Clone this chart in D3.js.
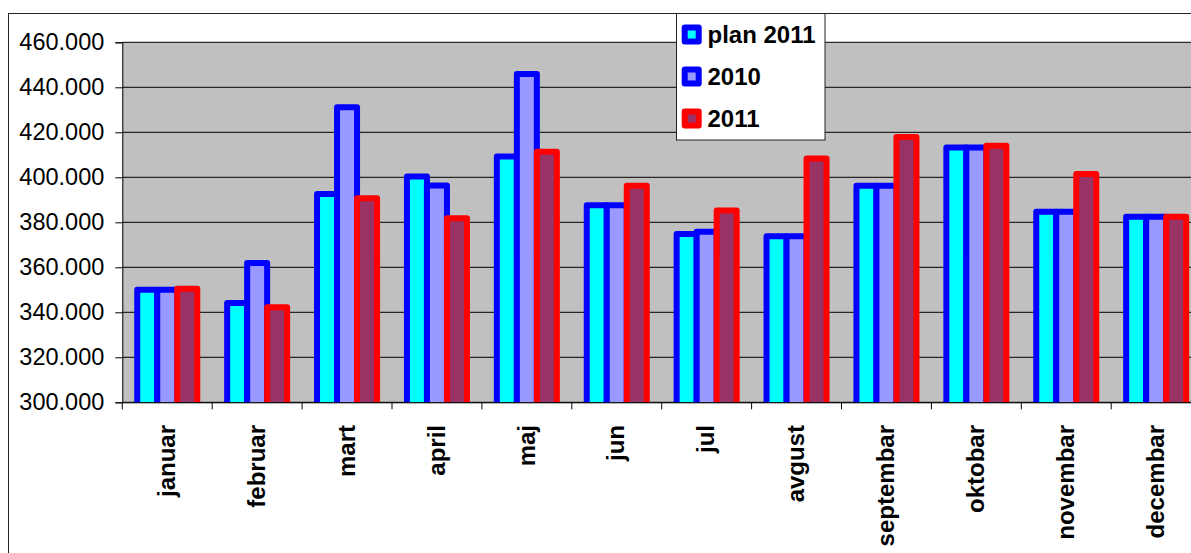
<!DOCTYPE html>
<html>
<head>
<meta charset="utf-8">
<script src="https://cdn.jsdelivr.net/npm/d3@7"></script>
<style>
  html, body { margin: 0; padding: 0; background: #fff; }
  svg { display: block; font-family: "Liberation Sans", Arial, sans-serif; }
</style>
</head>
<body>
<svg id="chart" width="1191" height="553"></svg>
<script>
const categories = ["januar","februar","mart","april","maj","jun","jul","avgust","septembar","oktobar","novembar","decembar"];
const seriesNames = ["plan 2011","2010","2011"];
const plan2011 = [350000, 344100, 392600, 400400, 409300, 387600, 374800, 373800, 396300, 413200, 384700, 382500];
const y2010    = [350000, 361900, 431100, 396400, 445900, 387600, 375800, 373800, 396300, 413200, 384700, 382500];
const y2011    = [350500, 342200, 390700, 381800, 411400, 396300, 385300, 408400, 417900, 414000, 401500, 382500];
const yTicks = [300000, 320000, 340000, 360000, 380000, 400000, 420000, 440000, 460000];
const fills   = ["#00FFFF", "#9999FF", "#993366"];
const strokes = ["#0000FF", "#0000FF", "#FF0000"];

const seriesValues = [plan2011, y2010, y2011];

const svg = d3.select("#chart");
const W = 1191, H = 553;

const plotLeft = 122.3, bandW = 89.9;
const plotRight = plotLeft + bandW * categories.length;
const plotTop = 42.3, plotBottom = 402.3;

// outer frame
svg.append("rect").attr("x", 8.5).attr("y", 13.5).attr("width", W + 20).attr("height", H + 20)
  .attr("fill", "#fff").attr("stroke", "#222").attr("stroke-width", 1);

const x0 = d3.scaleBand().domain(categories).range([plotLeft, plotRight]).padding(0);
const groupW = x0.bandwidth() * (60 / 89.9);
const x1 = d3.scaleBand().domain(seriesNames)
  .range([(x0.bandwidth() - groupW) / 2, (x0.bandwidth() + groupW) / 2]).padding(0);
const y = d3.scaleLinear().domain([300000, 460000]).range([plotBottom, plotTop]);

// plot background
svg.append("rect").attr("x", plotLeft).attr("y", plotTop)
  .attr("width", plotRight - plotLeft).attr("height", plotBottom - plotTop).attr("fill", "#C0C0C0");

// gridlines
svg.append("g").selectAll("line").data(yTicks).join("line")
  .attr("x1", plotLeft).attr("x2", plotRight)
  .attr("y1", d => y(d)).attr("y2", d => y(d))
  .attr("stroke", "#000").attr("stroke-width", 1);

// clip for bars
svg.append("clipPath").attr("id", "plotclip").append("rect")
  .attr("x", plotLeft).attr("y", 0).attr("width", plotRight - plotLeft).attr("height", plotBottom);

const barsG = svg.append("g").attr("clip-path", "url(#plotclip)");
seriesNames.forEach((s, si) => {
  barsG.append("g").selectAll("rect").data(categories).join("rect")
    .attr("x", c => x0(c) + x1(s))
    .attr("y", (c, i) => y(seriesValues[si][i]))
    .attr("width", x1.bandwidth())
    .attr("height", (c, i) => y(300000) - y(seriesValues[si][i]) + 6)
    .attr("fill", fills[si])
    .attr("stroke", strokes[si])
    .attr("stroke-width", 6)
    .attr("stroke-linejoin", "round");
});

// y axis
const loc = d3.formatLocale({decimal: ",", thousands: ".", grouping: [3], currency: ["", ""]});
const fmt = loc.format(",");
const yAxis = d3.axisLeft(y).tickValues(yTicks).tickFormat(fmt).tickSize(7).tickPadding(11);
const yg = svg.append("g").attr("transform", `translate(${plotLeft},0)`).call(yAxis);
yg.select(".domain").attr("stroke", "#000");
yg.selectAll(".tick line").attr("stroke", "#000");
yg.selectAll("text").attr("font-size", "23.5px").attr("fill", "#000")
  .attr("font-family", "'Liberation Sans', Arial, sans-serif");

// x axis
const xAxis = d3.axisBottom(x0).tickSize(0).tickFormat("");
const xg = svg.append("g").attr("transform", `translate(0,${plotBottom})`).call(xAxis);
xg.select(".domain").attr("stroke", "#000");
const bounds = categories.map(c => x0(c)).concat([plotRight]);
xg.selectAll(".bt").data(bounds).join("line").attr("class", "bt")
  .attr("x1", d => d).attr("x2", d => d).attr("y1", 0).attr("y2", 7).attr("stroke", "#000");

svg.append("g").selectAll("text").data(categories).join("text")
  .attr("transform", c => `translate(${x0(c) + x0.bandwidth() / 2},425) rotate(-90)`)
  .attr("text-anchor", "end")
  .attr("dy", "0.32em")
  .attr("font-size", "24px")
  .attr("font-weight", "bold")
  .attr("fill", "#000")
  .text(c => c);

// legend
const lg = svg.append("g");
lg.append("rect").attr("x", 676.5).attr("y", 13.5).attr("width", 148.5).attr("height", 126.5)
  .attr("fill", "#fff").attr("stroke", "#222").attr("stroke-width", 1);
const legY = [34.5, 76.5, 118.5];
seriesNames.forEach((s, i) => {
  lg.append("rect").attr("x", 691.7 - 7).attr("y", legY[i] - 7).attr("width", 14).attr("height", 14)
    .attr("fill", fills[i]).attr("stroke", strokes[i]).attr("stroke-width", 6)
    .attr("stroke-linejoin", "round");
  lg.append("text").attr("x", 707.5).attr("y", legY[i] + 8.8)
    .attr("font-size", "24px").attr("font-weight", "bold").attr("fill", "#000").text(s);
});
</script>
</body>
</html>
